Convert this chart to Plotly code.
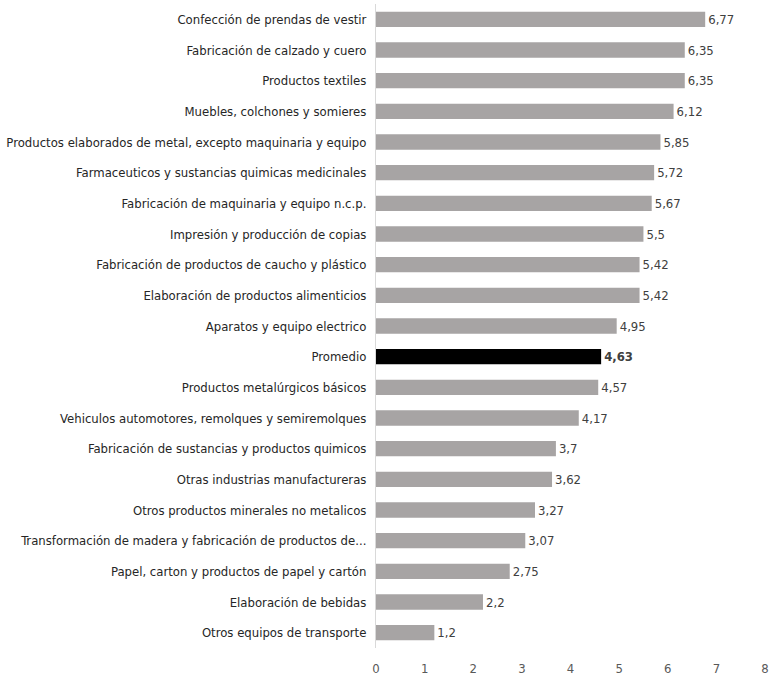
import plotly.graph_objects as go

categories = [
    "Confección de prendas de vestir",
    "Fabricación de calzado y cuero",
    "Productos textiles",
    "Muebles, colchones y somieres",
    "Productos elaborados de metal, excepto maquinaria y equipo",
    "Farmaceuticos y sustancias quimicas medicinales",
    "Fabricación de maquinaria y equipo n.c.p.",
    "Impresión y producción de copias",
    "Fabricación de productos de caucho y plástico",
    "Elaboración de productos alimenticios",
    "Aparatos y equipo electrico",
    "Promedio",
    "Productos metalúrgicos básicos",
    "Vehiculos automotores, remolques y semiremolques",
    "Fabricación de sustancias y productos quimicos",
    "Otras industrias manufactureras",
    "Otros productos minerales no metalicos",
    "Transformación de madera y fabricación de productos de...",
    "Papel, carton y productos de papel y cartón",
    "Elaboración de bebidas",
    "Otros equipos de transporte",
]
values = [6.77, 6.35, 6.35, 6.12, 5.85, 5.72, 5.67, 5.5, 5.42, 5.42, 4.95,
          4.63, 4.57, 4.17, 3.7, 3.62, 3.27, 3.07, 2.75, 2.2, 1.2]
highlight = "Promedio"
x_ticks = [0, 1, 2, 3, 4, 5, 6, 7, 8]

GRAY = "#a7a4a4"
colors = ["#000000" if c == highlight else GRAY for c in categories]
texts = []
for c, v in zip(categories, values):
    s = f"{v:g}".replace(".", ",")
    texts.append(f"<b>{s}</b>" if c == highlight else s)

FONT = "DejaVu Sans Condensed, sans-serif"

fig = go.Figure()
fig.add_trace(go.Bar(
    y=categories, x=values, orientation="h",
    marker=dict(color=colors, line=dict(width=0)),
    text=texts, textposition="outside", cliponaxis=False,
    textfont=dict(family=FONT, size=13, color="#404040"),
    width=0.5,
))

fig.update_layout(
    width=770, height=677,
    margin=dict(l=376, r=5, t=4, b=29),
    plot_bgcolor="white", paper_bgcolor="white",
    showlegend=False,
    font=dict(family=FONT, size=13, color="#404040"),
    bargap=0.5,
)
fig.update_yaxes(
    categoryorder="array", categoryarray=categories[::-1],
    automargin=False,
    showline=True, linecolor="#d9d9d9", linewidth=1,
    ticks="outside", ticklen=6, tickcolor="rgba(0,0,0,0)",
    tickfont=dict(family=FONT, size=13, color="#262626"),
    showgrid=False, zeroline=False,
)
fig.update_xaxes(
    range=[0, 8], tickvals=x_ticks, showgrid=False, zeroline=False,
    automargin=False,
    showline=False, ticks="outside", ticklen=8, tickcolor="rgba(0,0,0,0)",
    tickfont=dict(family=FONT, size=13, color="#595959"),
)

fig.write_html("out.html")
